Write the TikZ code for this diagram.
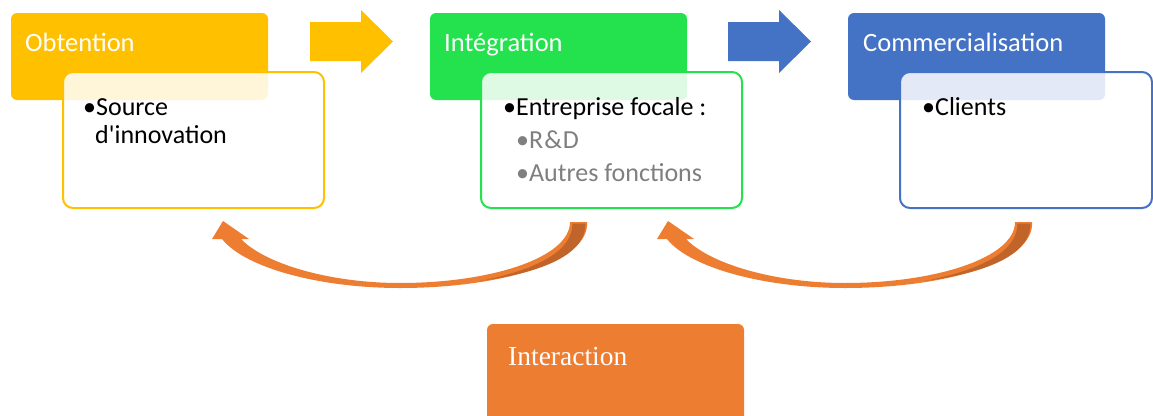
\documentclass[tikz,border=0pt]{standalone}
\usepackage{fontspec}
\setmainfont{Carlito}[Ligatures=TeXOff]
\newfontfamily\serfont{Liberation Serif}
\definecolor{cgold}{HTML}{FFC000}
\definecolor{cgreen}{HTML}{23E24D}
\definecolor{cblue}{HTML}{4472C4}
\definecolor{corange}{HTML}{ED7D31}
\definecolor{cdark}{HTML}{C0642A}
\definecolor{cgrey}{HTML}{7F7F7F}
\newcommand\bendarrow[1]{%
  \begin{scope}[shift={#1}]
    \fill[corange] (587,222) .. controls (590,262) and (500,288) .. (400,288)
      .. controls (320,288) and (245,268) .. (222,239)
      -- (212,239) -- (223,221) -- (249,239) -- (241,239)
      .. controls (265,264) and (330,283) .. (400,283)
      .. controls (490,283) and (570,258) .. (570,222) -- cycle;
    \fill[cdark] (572.5,223.5) -- (585.5,223.5) .. controls (585.5,254) and (545,272) .. (480,281)
      .. controls (540,269) and (572.5,250) .. (572.5,223.5) -- cycle;
  \end{scope}}
\begin{document}
\begin{tikzpicture}[x=1pt,y=-1pt,
  hdr/.style={anchor=north west, inner sep=0pt, outer sep=0pt, rounded corners=6pt,
    minimum width=257pt, minimum height=87pt},
  det/.style={anchor=north west, inner sep=0pt, outer sep=0pt, rounded corners=10pt,
    line width=2pt, fill=white, fill opacity=0.85, minimum width=261pt, minimum height=136pt},
  htxt/.style={anchor=base west, text=white, inner sep=0pt, font=\fontsize{26.5}{30}\selectfont},
  btxt/.style={anchor=base west, text=black, inner sep=0pt, font=\fontsize{26}{30}\selectfont},
  stxt/.style={btxt, text=cgrey}]
\useasboundingbox (0,0) rectangle (1153,415);
\clip (0,0) rectangle (1153,415);
% headers
\node[hdr, fill=cgold] (obt) at (11,13) {};
\node[hdr, fill=cgreen] (integ) at (430,13) {};
\node[hdr, fill=cblue] (comm) at (848,13) {};
% detail boxes
\node[det, draw=cgold] (src) at (63,72) {};
\node[det, draw=cgreen] (ent) at (481,72) {};
\node[det, draw=cblue, minimum width=252pt] (cli) at (900,72) {};
% header texts
\node[htxt] (tobt) at (25,51.5) {Obtention};
\node[htxt] (tint) at (444,51.5) {Intégration};
\node[htxt] (tcom) at (863,51.5) {Commercialisation};
% body texts
\node[btxt] (tsrc1) at (83,115) {•Source};
\node[btxt] (tsrc2) at (95,143.5) {d'innovation};
\node[btxt] (tent) at (503,115) {•Entreprise focale :};
\node[stxt] (trd) at (516,148) {•R\kern1pt\&\kern1pt D};
\node[stxt] (taut) at (516,181.5) {•Autres fonctions};
\node[btxt] (tcli) at (922,115) {•Clients};
% straight block arrows
\fill[cgold] (310,22) -- (361,22) -- (361,10) -- (393,41.5) -- (361,73) -- (361,61) -- (310,61) -- cycle;
\fill[cblue] (728,22) -- (779,22) -- (779,10) -- (811,41.5) -- (779,73) -- (779,61) -- (728,61) -- cycle;
% curved arrows
\bendarrow{(0,0)}
\bendarrow{(445,0)}
% interaction
\node[hdr, fill=corange, minimum height=120pt] (inter) at (487,324) {};
\node[htxt, font=\serfont\fontsize{27.5}{30}\selectfont] (tinter) at (508,365) {Interaction};
\end{tikzpicture}
\end{document}
